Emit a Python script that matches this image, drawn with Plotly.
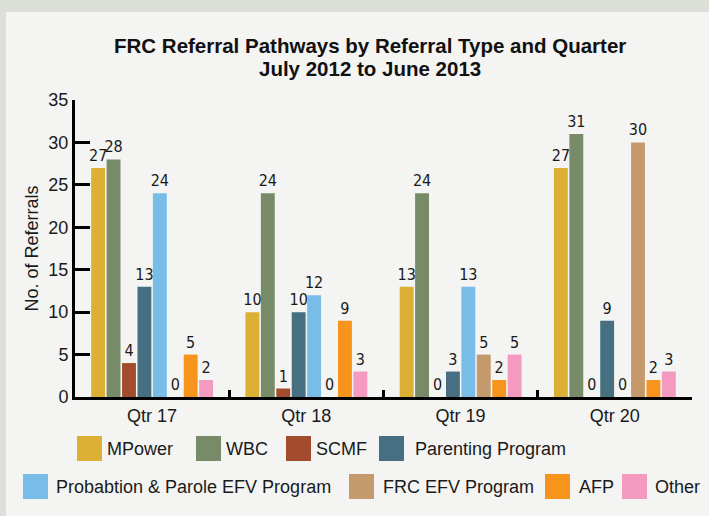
import plotly.graph_objects as go

# Data
quarters = ["Qtr 17", "Qtr 18", "Qtr 19", "Qtr 20"]
mpower = [27, 10, 13, 27]
wbc = [28, 24, 24, 31]
scmf = [4, 1, 0, 0]
parenting = [13, 10, 3, 9]
probation = [24, 12, 13, 0]
frc_efv = [0, 0, 5, 30]
afp = [5, 9, 2, 2]
other = [2, 3, 5, 3]

series = [
    ("MPower", mpower, "#DBB035"),
    ("WBC", wbc, "#778B69"),
    ("SCMF", scmf, "#A24C2D"),
    ("Parenting Program", parenting, "#466F82"),
    ("Probabtion & Parole EFV Program", probation, "#77BDE8"),
    ("FRC EFV Program", frc_efv, "#C49A6C"),
    ("AFP", afp, "#F7941E"),
    ("Other", other, "#F49AC1"),
]

W, H = 709, 516
L, R, T, B = 75, 17, 100, 119
PW, PH = W - L - R, H - T - B


def px(x):
    return (x - L) / PW


def py(y):
    return (H - B - y) / PH


main_font = "Liberation Sans, Arial, sans-serif"
label_font = "DejaVu Sans Condensed, Arial Narrow, sans-serif"

fig = go.Figure()
for name, vals, color in series:
    fig.add_trace(go.Bar(
        x=quarters, y=vals, name=name, marker_color=color,
        marker_line_width=0,
        text=[str(v) for v in vals], textposition="outside",
        constraintext="none",
        textfont=dict(family=label_font, size=16, color="#1a1a1a"),
        cliponaxis=False, showlegend=False,
    ))

# manual legend (large square swatches)
legend_pos = [
    (77, 436, 105), (196, 436, 224), (286, 436, 314), (379, 436, 413),
    (23, 474, 54), (349, 474, 381), (545, 474, 577), (622, 474, 653),
]
shapes = [dict(type="rect", xref="paper", yref="paper",
               x0=px(6), x1=px(720), y0=py(12), y1=py(530),
               fillcolor="#F4F4F2", line_width=0, layer="below")]
annotations = []
for (name, vals, color), (sx, sy, tx) in zip(series, legend_pos):
    shapes.append(dict(type="rect", xref="paper", yref="paper",
                       x0=px(sx), x1=px(sx + 25), y0=py(sy), y1=py(sy + 25),
                       fillcolor=color, line_width=0))
    annotations.append(dict(xref="paper", yref="paper", x=px(tx), y=py(sy + 12.5),
                            xanchor="left", yanchor="middle", text=name, showarrow=False,
                            font=dict(family=main_font, size=18, color="#1a1a1a")))

title_lines = ["FRC Referral Pathways by Referral Type and Quarter", "July 2012 to June 2013"]
for line, ty in zip(title_lines, [45, 69]):
    annotations.append(dict(xref="paper", yref="paper", x=px(370), y=py(ty),
                            text=f"<b>{line}</b>", showarrow=False,
                            xanchor="center", yanchor="middle",
                            font=dict(family=main_font, size=20.5, color="#111")))

fig.update_layout(
    width=W, height=H,
    margin=dict(l=L, r=R, t=T, b=B),
    paper_bgcolor="#DCDFD8",
    plot_bgcolor="rgba(0,0,0,0)",
    barmode="group", bargap=0.2, bargroupgap=0.1,
    font=dict(family=main_font, size=18, color="#1a1a1a"),
    shapes=shapes, annotations=annotations,
    showlegend=False,
)
fig.update_xaxes(
    showgrid=False, showline=True, linecolor="black", linewidth=3,
    ticks="inside", tickson="boundaries", ticklen=7, tickwidth=2.5, tickcolor="black",
    tickfont=dict(size=18),
)
fig.update_yaxes(
    range=[0, 35], dtick=5, showgrid=False, zeroline=False,
    showline=True, linecolor="black", linewidth=3,
    ticks="inside", ticklen=15, tickwidth=3, tickcolor="black",
    tickfont=dict(size=18),
    title=dict(text="No. of Referrals", font=dict(size=18), standoff=6),
)

fig.write_html("out.html", config={"displayModeBar": False},
               post_script="document.body.style.margin='0';")
